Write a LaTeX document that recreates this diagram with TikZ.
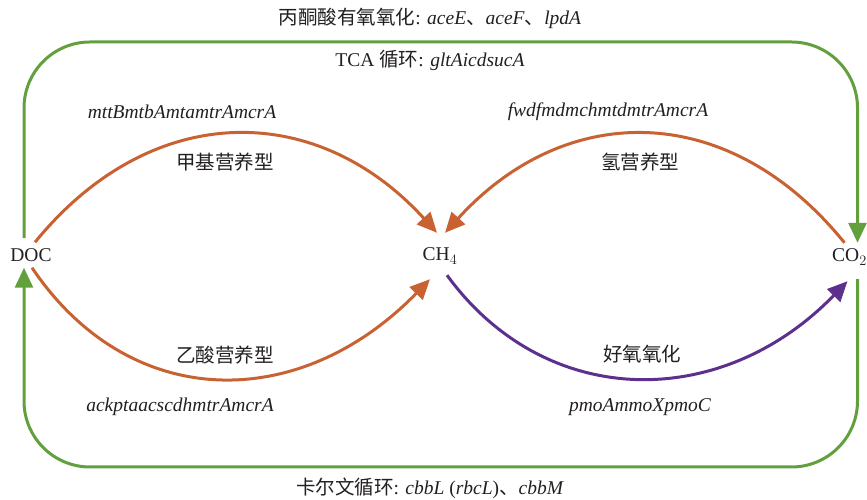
\documentclass[tikz,border=0pt]{standalone}
\usepackage{fontspec}
\setmainfont{Liberation Serif}
\newfontfamily\cjk{Noto Sans CJK SC}
\usetikzlibrary{arrows.meta}
\definecolor{methorange}{RGB}{201,98,50}
\definecolor{cyclegreen}{RGB}{98,160,62}
\definecolor{oxpurple}{RGB}{92,48,140}
\definecolor{labelgray}{RGB}{35,31,32}
\newcommand\labelsize{\fontsize{19.5}{23}\selectfont}
\tikzset{
  pathway/.style={line width=3pt, -{Triangle[length=20pt,width=18pt]}},
  cycleline/.style={pathway, cyclegreen, rounded corners=66pt},
  compound/.style={inner sep=6pt, text=labelgray},
  genes/.style={text=labelgray, font=\labelsize\itshape},
  route/.style={text=labelgray, font=\labelsize\cjk}
}
\begin{document}
\begin{tikzpicture}[x=1pt,y=1pt,every node/.style={font=\labelsize}]
\useasboundingbox (0,0) rectangle (867,500);
% compounds
\node[compound] (doc) at (31,245) {DOC};
\node[compound, inner sep=0pt, minimum width=16pt, minimum height=46pt] (ch4) at (440,244) {CH$_4$};
\node[compound] (co2) at (849.5,243) {CO$_2$};
\coordinate (top) at (440,458);
\coordinate (bottom) at (440,33);
% carbon cycles
\draw[cycleline, shorten <=4pt] ([xshift=-7pt]doc.north) |- (top) -| ([xshift=8pt]co2.north);
\draw[cycleline, shorten <=8pt] ([xshift=8pt]co2.south) |- (bottom) -| ([xshift=-7pt]doc.south);
% methanogenesis and oxidation
\draw[pathway, methorange] ([xshift=4pt]doc.north) .. controls (151,400) and (316,400) .. ([xshift=-3pt]ch4.north);
\draw[pathway, methorange] ([xshift=-5pt]co2.north) .. controls (729,400) and (566,400) .. ([xshift=5pt]ch4.north);
\draw[pathway, methorange] ([xshift=1pt]doc.south) .. controls (130,87) and (300,87) .. ([xshift=-10pt]ch4.south);
\draw[pathway, oxpurple] ([xshift=7pt,yshift=4pt]ch4.south) .. controls (546,89) and (722,89) .. ([xshift=-2pt,yshift=-10pt]co2.south);
% labels
\node[text=labelgray] (pyr) at (430,482) {{\cjk 丙酮酸有氧氧化}: \textit{aceE}{\cjk 、}\textit{aceF}{\cjk 、}\textit{lpdA}};
\node[text=labelgray] (tca) at (430,440) {TCA {\cjk 循环}: \textit{gltAicdsucA}};
\node[text=labelgray] (calvin) at (430,12) {{\cjk 卡尔文循环}: \textit{cbbL} (\textit{rbcL}){\cjk 、}\textit{cbbM}};
\node[genes] (methylg) at (182,388) {mttBmtbAmtamtrAmcrA};
\node[route] (methyl) at (225,338) {甲基营养型};
\node[genes] (hydrog) at (608,388) {fwdfmdmchmtdmtrAmcrA};
\node[route] (hydro) at (640,338) {氢营养型};
\node[route] (acet) at (225,145) {乙酸营养型};
\node[genes] (acetg) at (180,93) {ackptaacscdhmtrAmcrA};
\node[route] (aero) at (642,146) {好氧氧化};
\node[genes] (aerog) at (640,93) {pmoAmmoXpmoC};
\end{tikzpicture}
\end{document}
